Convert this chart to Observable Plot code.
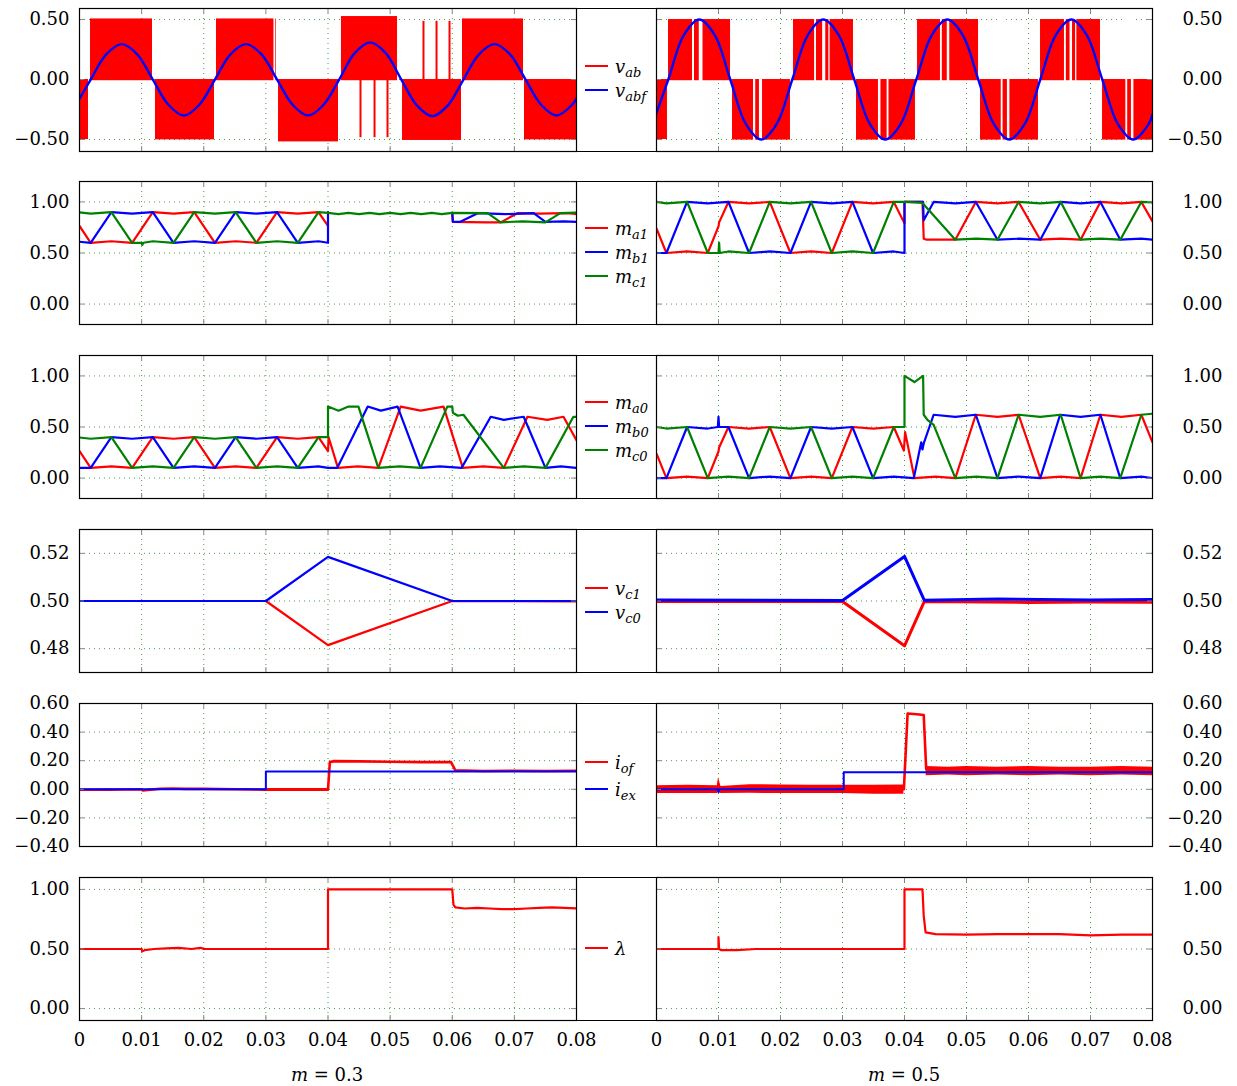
<!DOCTYPE html>
<html><head><meta charset="utf-8">
<script src="https://cdn.jsdelivr.net/npm/d3@7"></script>
<script src="https://cdn.jsdelivr.net/npm/@observablehq/plot@0.6"></script>
<style>
html,body{margin:0;padding:0;background:#fff;}
#fig{position:relative;width:1237px;height:1086px;overflow:hidden;font-family:"DejaVu Serif",serif;color:#000;}
.pl{position:absolute;}
.leg{position:absolute;left:576px;width:80px;height:144px;border-top:1px solid #000;border-bottom:1px solid #000;box-sizing:border-box;}
.item{position:absolute;left:585px;height:24px;display:flex;align-items:center;font-size:18px;font-style:italic;white-space:nowrap;}
.item .sw{display:inline-block;width:23px;height:2px;margin-right:7px;}
.item sub{font-size:13px;vertical-align:-4px;line-height:0;}
.cap{position:absolute;font-size:18px;transform:translateX(-50%);white-space:nowrap;}
</style></head><body><div id="fig"></div><script>
const RED = "#ff0000", BLUE = "#0000ff", GREEN = "#008000";

// ---------- axis data ----------
const X_TICKS = [0, 0.01, 0.02, 0.03, 0.04, 0.05, 0.06, 0.07, 0.08];
const X_LABELS = ["0", "0.01", "0.02", "0.03", "0.04", "0.05", "0.06", "0.07", "0.08"];
const Y1_TICKS = [-0.5, 0, 0.5], Y1_LABELS = ["\u22120.50", "0.00", "0.50"];
const Y2_TICKS = [0, 0.5, 1], Y2_LABELS = ["0.00", "0.50", "1.00"];
const Y4_TICKS = [0.48, 0.5, 0.52], Y4_LABELS = ["0.48", "0.50", "0.52"];
const Y5_TICKS = [-0.4, -0.2, 0, 0.2, 0.4, 0.6], Y5_LABELS = ["\u22120.40", "\u22120.20", "0.00", "0.20", "0.40", "0.60"];
const Y6_TICKS = [0, 0.5, 1], Y6_LABELS = ["0.00", "0.50", "1.00"];
const CASES = ["0.3", "0.5"];

// ---------- row 1: v_ab (PWM blocks [t0,t1,level]) and v_abf ----------
const vabBlocksL = [[0,0.00145,-0.5],[0.00177,0.01175,0.505],[0.01223,0.02173,-0.503],[0.02205,0.03171,0.505],[0.03203,0.04169,-0.52],[0.04217,0.05119,0.525],[0.05199,0.06149,-0.508],[0.06165,0.07147,0.505],[0.07163,0.08,-0.503]];
const vabSpikesL = [[0.04523,-0.485],[0.04749,-0.485],[0.04958,-0.485],[0.05537,0.485],[0.05747,0.485],[0.05956,0.485]];
const vabGapsL = [[0.0313,0.0316]];
const vabfL = [[0,-0.16],[0.0018,0],[0.0043,0.21],[0.0068,0.295],[0.0093,0.21],[0.0118,0],[0.0143,-0.21],[0.0168,-0.3],[0.0193,-0.21],[0.0218,0],[0.0243,0.21],[0.0268,0.295],[0.0293,0.21],[0.0318,0],[0.0343,-0.21],[0.0368,-0.3],[0.0393,-0.21],[0.0418,0],[0.0443,0.22],[0.0468,0.31],[0.0493,0.22],[0.0518,0],[0.0543,-0.215],[0.0568,-0.305],[0.0593,-0.215],[0.0618,0],[0.0643,0.21],[0.0668,0.295],[0.0693,0.21],[0.0718,0],[0.0743,-0.21],[0.0768,-0.3],[0.0793,-0.21],[0.08,-0.16]];

const vabBlocksR = [[0,0.00177,-0.5],[0.00194,0.01194,0.5],[0.01226,0.02161,-0.505],[0.0221,0.03177,0.5],[0.03226,0.04177,-0.505],[0.0421,0.05194,0.5],[0.05226,0.06161,-0.505],[0.06194,0.07161,0.5],[0.07194,0.08,-0.505]];
const vabGapsR = [[0.00581,0.00613],[0.0069,0.0075],[0.01565,0.0160],[0.0166,0.0171],[0.0255,0.0258],[0.0268,0.0273],[0.0278,0.0280],[0.0358,0.0362],[0.0372,0.0375],[0.0458,0.0461],[0.0469,0.0473],[0.0556,0.0559],[0.0566,0.0570],[0.0658,0.0661],[0.0667,0.0671],[0.0676,0.0678],[0.0757,0.0760],[0.0766,0.0770]];
const vabfR = [[0,-0.28],[0.0019,0],[0.0044,0.37],[0.0069,0.5],[0.0094,0.37],[0.0119,0],[0.0144,-0.37],[0.0169,-0.5],[0.0194,-0.37],[0.0219,0],[0.0244,0.37],[0.0269,0.5],[0.0294,0.37],[0.0319,0],[0.0344,-0.37],[0.0369,-0.5],[0.0394,-0.37],[0.0419,0],[0.0444,0.37],[0.0469,0.5],[0.0494,0.37],[0.0519,0],[0.0544,-0.37],[0.0569,-0.5],[0.0594,-0.37],[0.0619,0],[0.0644,0.37],[0.0669,0.5],[0.0694,0.37],[0.0719,0],[0.0744,-0.37],[0.0769,-0.5],[0.0794,-0.37],[0.08,-0.29]];

// ---------- row 2: m_a1, m_b1, m_c1 ----------
const ma1L = [[0,0.765],[0.0018,0.6],[0.00513,0.615],[0.00847,0.6],[0.0118,0.9],[0.01513,0.885],[0.01847,0.9],[0.0218,0.6],[0.02513,0.615],[0.02847,0.6],[0.0318,0.9],[0.03513,0.885],[0.03847,0.9],[0.04,0.765],[0.04,NaN],[0.06,NaN],[0.06,0.89],[0.0601,0.805],[0.0655,0.8],[0.0678,0.8],[0.0705,0.89],[0.074,0.885],[0.078,0.89],[0.0795,0.885],[0.08,0.88]];
const mb1L = [[0,0.61],[0.0018,0.6],[0.00513,0.9],[0.00847,0.885],[0.0118,0.9],[0.01513,0.6],[0.01847,0.615],[0.0218,0.6],[0.02513,0.9],[0.02847,0.885],[0.0318,0.9],[0.03513,0.6],[0.03847,0.615],[0.04,0.6],[0.04,0.9],[0.0401,NaN],[0.06,NaN],[0.06,0.89],[0.0601,0.807],[0.0613,0.805],[0.0641,0.89],[0.0685,0.88],[0.0731,0.89],[0.075,0.805],[0.078,0.81],[0.08,0.805]];
const mc1L = [[0,0.897],[0.0018,0.885],[0.00513,0.9],[0.00847,0.6],[0.0100,0.6],[0.0101,0.58],[0.0103,0.6],[0.0118,0.615],[0.01513,0.6],[0.01847,0.9],[0.0218,0.885],[0.02513,0.9],[0.02847,0.6],[0.0318,0.615],[0.03513,0.6],[0.03847,0.9],[0.04,0.893],[0.0417,0.88],[0.0433,0.893],[0.045,0.88],[0.0467,0.893],[0.0483,0.88],[0.05,0.893],[0.0517,0.88],[0.0533,0.893],[0.055,0.88],[0.0567,0.893],[0.0583,0.88],[0.06,0.893],[0.0657,0.89],[0.0678,0.8],[0.0713,0.81],[0.075,0.8],[0.0774,0.89],[0.08,0.895]];

const ma1R = [[0,0.74],[0.0016,0.5],[0.00493,0.515],[0.00827,0.5],[0.0100,0.76],[0.0101,0.8],[0.0116,1],[0.01493,0.985],[0.01827,1],[0.0216,0.5],[0.02493,0.515],[0.02827,0.5],[0.0316,1],[0.03493,0.985],[0.03827,1],[0.04,0.79],[0.04,1],[0.0429,1],[0.0431,0.64],[0.0436,0.63],[0.0482,0.63],[0.0515,1],[0.055,0.985],[0.0584,1],[0.0619,0.63],[0.0652,0.64],[0.0684,0.63],[0.0716,1],[0.075,0.985],[0.0782,1],[0.08,0.81]];
const mb1R = [[0,0.5],[0.0016,0.5],[0.00493,1],[0.00827,0.985],[0.0116,1],[0.01493,0.5],[0.01827,0.515],[0.0216,0.5],[0.02493,1],[0.02827,0.985],[0.0316,1],[0.03493,0.5],[0.03827,0.515],[0.04,0.5],[0.04,1],[0.043,1],[0.0431,0.82],[0.0447,1],[0.0482,0.985],[0.0515,1],[0.055,0.63],[0.0584,0.64],[0.0619,0.63],[0.0652,1],[0.0684,0.985],[0.0716,1],[0.0748,0.63],[0.0782,0.64],[0.08,0.63]];
const mc1R = [[0,1],[0.0016,0.985],[0.00493,1],[0.00827,0.5],[0.0100,0.5],[0.0101,0.6],[0.0102,0.5],[0.0116,0.515],[0.01493,0.5],[0.01827,1],[0.0216,0.985],[0.02493,1],[0.02827,0.5],[0.0316,0.515],[0.03493,0.5],[0.03827,1],[0.04,1],[0.0429,0.99],[0.0482,0.63],[0.0516,0.64],[0.055,0.63],[0.0584,1],[0.0619,0.985],[0.0652,1],[0.0684,0.63],[0.0716,0.64],[0.0748,0.63],[0.0782,1],[0.08,0.995]];

// ---------- row 3: m_a0, m_b0, m_c0 ----------
const ma0L = [[0,0.265],[0.0018,0.1],[0.00513,0.115],[0.00847,0.1],[0.0118,0.4],[0.01513,0.385],[0.01847,0.4],[0.0218,0.1],[0.02513,0.115],[0.02847,0.1],[0.0318,0.4],[0.03513,0.385],[0.03847,0.4],[0.04,0.265],[0.0401,0.4],[0.0416,0.1],[0.0448,0.115],[0.0481,0.1],[0.0517,0.7],[0.0549,0.66],[0.0586,0.7],[0.0617,0.1],[0.065,0.115],[0.0683,0.1],[0.0721,0.6],[0.0753,0.57],[0.0779,0.6],[0.08,0.37]];
const mb0L = [[0,0.1],[0.0018,0.1],[0.00513,0.4],[0.00847,0.385],[0.0118,0.4],[0.01513,0.1],[0.01847,0.115],[0.0218,0.1],[0.02513,0.4],[0.02847,0.385],[0.0318,0.4],[0.03513,0.1],[0.03847,0.115],[0.04,0.1],[0.0415,0.1],[0.0464,0.7],[0.0485,0.66],[0.0512,0.7],[0.0549,0.1],[0.058,0.115],[0.0615,0.1],[0.0662,0.6],[0.0683,0.57],[0.0715,0.6],[0.075,0.1],[0.0775,0.115],[0.08,0.1]];
const mc0L = [[0,0.397],[0.0018,0.385],[0.00513,0.4],[0.00847,0.1],[0.0118,0.115],[0.01513,0.1],[0.01847,0.4],[0.0218,0.385],[0.02513,0.4],[0.02847,0.1],[0.0318,0.115],[0.03513,0.1],[0.03847,0.4],[0.04,0.4],[0.04,0.7],[0.0417,0.66],[0.0433,0.7],[0.0449,0.7],[0.0481,0.1],[0.0515,0.115],[0.0549,0.1],[0.0592,0.7],[0.06,0.7],[0.0601,0.64],[0.0609,0.61],[0.0618,0.62],[0.0683,0.1],[0.0715,0.115],[0.075,0.1],[0.0795,0.6],[0.08,0.6]];

const ma0R = [[0,0.24],[0.0016,0],[0.00493,0.015],[0.00827,0],[0.0100,0.26],[0.0101,0.3],[0.0116,0.5],[0.01493,0.485],[0.01827,0.5],[0.0216,0],[0.02493,0.015],[0.02827,0],[0.0316,0.5],[0.03493,0.485],[0.03827,0.5],[0.0399,0.27],[0.0401,0.45],[0.0416,0],[0.045,0.015],[0.0482,0],[0.0515,0.62],[0.055,0.6],[0.0584,0.62],[0.0619,0],[0.0652,0.015],[0.0684,0],[0.0716,0.62],[0.075,0.6],[0.0782,0.62],[0.08,0.35]];
const mb0R = [[0,0],[0.0016,0],[0.00493,0.5],[0.00827,0.485],[0.0099,0.5],[0.0100,0.6],[0.0101,0.5],[0.0116,0.5],[0.01493,0],[0.01827,0.015],[0.0216,0],[0.02493,0.5],[0.02827,0.485],[0.0316,0.5],[0.03493,0],[0.03827,0.015],[0.0415,0],[0.0427,0.35],[0.0429,0.28],[0.0431,0.34],[0.0447,0.62],[0.0482,0.6],[0.0515,0.62],[0.055,0],[0.0584,0.015],[0.0619,0],[0.0651,0.62],[0.0684,0.6],[0.0716,0.62],[0.0748,0],[0.0782,0.015],[0.08,0]];
const mc0R = [[0,0.5],[0.0016,0.485],[0.00493,0.5],[0.00827,0],[0.0116,0.015],[0.01493,0],[0.01827,0.5],[0.0216,0.485],[0.02493,0.5],[0.02827,0],[0.0316,0.015],[0.03493,0],[0.03827,0.5],[0.04,0.5],[0.04,1.0],[0.0416,0.94],[0.043,1.0],[0.0431,0.62],[0.0437,0.57],[0.0447,0.52],[0.0482,0],[0.0516,0.015],[0.055,0],[0.0584,0.62],[0.0619,0.6],[0.0652,0.62],[0.0684,0],[0.0716,0.015],[0.0748,0],[0.0782,0.62],[0.08,0.63]];

// ---------- row 4: v_c1, v_c0 ----------
const vc1L = [[0,0.5],[0.03,0.5],[0.04,0.4815],[0.06,0.5],[0.08,0.4998]];
const vc0L = [[0,0.5],[0.03,0.5],[0.04,0.5185],[0.06,0.5],[0.08,0.5]];
const vc1R = [[0,0.4998],[0.03,0.4998],[0.04,0.4812],[0.0432,0.4998],[0.06,0.4994],[0.07,0.4996],[0.08,0.4995]];
const vc0R = [[0,0.5004],[0.03,0.5002],[0.04,0.5187],[0.0432,0.5003],[0.055,0.5008],[0.07,0.5004],[0.08,0.5006]];

// ---------- row 5: i_of, i_ex ----------
const iofBandL = [[0.03,-0.006,0.006],[0.04,-0.006,0.006]];
const iofL = [[0,-0.003],[0.005,-0.002],[0.01,0],[0.0102,-0.008],[0.011,-0.004],[0.013,0.004],[0.015,0.006],[0.017,0.003],[0.02,0.003],[0.025,0],[0.03,-0.002],[0.04,-0.003],[0.0403,0.19],[0.041,0.197],[0.045,0.195],[0.05,0.193],[0.055,0.19],[0.0598,0.19],[0.0605,0.133],[0.065,0.128],[0.07,0.13],[0.075,0.128],[0.08,0.13]];
const iexL = [[0,0],[0.03,0],[0.03,0.125],[0.08,0.125]];
const iofBandR1 = [[0,-0.03,0.025],[0.005,-0.03,0.028],[0.0098,-0.03,0.025],[0.0100,-0.02,0.08],[0.0104,-0.03,0.02],[0.015,-0.028,0.032],[0.02,-0.03,0.03],[0.025,-0.03,0.028],[0.03,-0.03,0.028],[0.035,-0.035,0.028],[0.0399,-0.035,0.03]];
const iofR = [[0.0399,0],[0.0405,0.53],[0.042,0.525],[0.0431,0.52],[0.0435,0.14]];
const iofBandR2 = [[0.0435,0.095,0.16],[0.047,0.1,0.155],[0.05,0.095,0.16],[0.055,0.1,0.155],[0.06,0.095,0.16],[0.065,0.1,0.155],[0.07,0.095,0.155],[0.075,0.1,0.16],[0.08,0.095,0.155]];
const iexR = [[0,0],[0.0099,0],[0.0100,-0.02],[0.0101,0],[0.0302,0],[0.0302,0.12],[0.08,0.12]];

// ---------- row 6: lambda ----------
const lamL = [[0,0.5],[0.01,0.5],[0.0101,0.48],[0.0105,0.49],[0.012,0.5],[0.014,0.505],[0.016,0.51],[0.018,0.5],[0.0195,0.51],[0.02,0.5],[0.04,0.5],[0.04,1],[0.06,1],[0.0602,0.87],[0.0605,0.85],[0.062,0.84],[0.064,0.845],[0.066,0.84],[0.068,0.835],[0.07,0.835],[0.072,0.84],[0.074,0.845],[0.076,0.85],[0.078,0.845],[0.08,0.84]];
const lamR = [[0,0.5],[0.01,0.5],[0.01,0.6],[0.0101,0.5],[0.0104,0.49],[0.013,0.49],[0.016,0.5],[0.018,0.5],[0.02,0.5],[0.04,0.5],[0.04,1],[0.0429,1],[0.0431,0.78],[0.0434,0.64],[0.045,0.625],[0.05,0.62],[0.055,0.625],[0.06,0.625],[0.065,0.625],[0.07,0.615],[0.075,0.62],[0.08,0.62]];

// ---------- legends ----------
const LEG = [
  [["v","ab",RED],["v","abf",BLUE]],
  [["m","a1",RED],["m","b1",BLUE],["m","c1",GREEN]],
  [["m","a0",RED],["m","b0",BLUE],["m","c0",GREEN]],
  [["v","c1",RED],["v","c0",BLUE]],
  [["i","of",RED],["i","ex",BLUE]],
  [["\u03bb","",RED]]
];
const LEG_Y = [[66,90],[228,252,276],[402,426,450],[588,612],[762,789],[948]];

// ---------- layout ----------
const ROW_TOPS = [8, 181, 355, 529, 703, 877];
const H = 143;
const FONT = '"DejaVu Serif",serif';
const fig = document.getElementById("fig");

const L = (data, stroke, w = 2.2, curve = "linear") =>
  Plot.line(data, {x: d => d[0], y: d => d[1], stroke, strokeWidth: w, curve, clip: true});

function panel(side, row, ydomain, yticks, ylabels, marks) {
  const isL = side === "L";
  const bottom = row === 5;
  const mt = 15, mb = bottom ? 45 : 15;
  const width = isL ? 580 : 637;
  const ml = isL ? 79 : 56, mr = isL ? 4 : 85;
  const W = width - ml - mr;
  const gridX = X_TICKS.slice(1, -1);
  const yl = yticks.map((v, i) => ({v, l: ylabels[i]}));
  const xl = X_TICKS.map((v, i) => ({v, l: X_LABELS[i]}));
  const svg = Plot.plot({
    width, height: H + mt + mb, marginTop: mt, marginBottom: mb, marginLeft: ml, marginRight: mr,
    x: {domain: [0, 0.08], axis: null},
    y: {domain: ydomain, axis: null},
    style: {fontFamily: FONT, fontSize: "18px", background: "transparent", color: "#000", overflow: "visible"},
    marks: [
      Plot.ruleX(gridX, {x: d => d, stroke: "#4a9a4a", strokeDasharray: "1,4", strokeWidth: 1}),
      Plot.ruleY(yticks, {y: d => d, stroke: "#4a9a4a", strokeDasharray: "1,4", strokeWidth: 1}),
      ...marks,
      Plot.tickX(X_TICKS, {x: d => d, insetBottom: H - 5, stroke: "#888"}),
      Plot.tickX(X_TICKS, {x: d => d, insetTop: H - 5, stroke: "#888"}),
      Plot.tickY(yticks, {y: d => d, insetRight: W - 5, stroke: "#888"}),
      Plot.tickY(yticks, {y: d => d, insetLeft: W - 5, stroke: "#888"}),
      Plot.frame({stroke: "#000", strokeWidth: 1.2}),
      Plot.text(yl, {y: "v", text: "l", frameAnchor: isL ? "left" : "right", dx: isL ? -10 : 70, textAnchor: "end", fontSize: 18, fill: "#000"}),
      ...(bottom ? [Plot.text(xl, {x: "v", text: "l", frameAnchor: "bottom", dy: 25, fontSize: 18, fill: "#000"})] : [])
    ]
  });
  svg.classList.add("pl");
  svg.style.left = (isL ? 0 : 600) + "px";
  svg.style.top = (ROW_TOPS[row] - mt) + "px";
  fig.appendChild(svg);
}

const blocks = (b) => Plot.rectY(b, {x1: d => d[0], x2: d => d[1], y1: d => d[2] > 0 ? -0.01 : 0, y2: d => d[2], fill: RED, clip: true});
const gaps = (g) => Plot.rectY(g, {x1: d => d[0], x2: d => d[1], y1: -0.55, y2: 0.55, fill: "#fff", clip: true});
const band = (b) => Plot.areaY(b, {x: d => d[0], y1: d => d[1], y2: d => d[2], fill: RED, clip: true});

// Row 1
panel("L", 0, [-0.6, 0.592], Y1_TICKS, Y1_LABELS, [
  blocks(vabBlocksL), gaps(vabGapsL),
  Plot.ruleX(vabSpikesL, {x: d => d[0], y1: 0, y2: d => d[1], stroke: RED, strokeWidth: 2}),
  L(vabfL, BLUE, 2.4, "catmull-rom")
]);
panel("R", 0, [-0.6, 0.592], Y1_TICKS, Y1_LABELS, [
  blocks(vabBlocksR), gaps(vabGapsR),
  L(vabfR, BLUE, 2.4, "catmull-rom")
]);
// Row 2
panel("L", 1, [-0.2, 1.2], Y2_TICKS, Y2_LABELS, [L(ma1L, RED), L(mb1L, BLUE), L(mc1L, GREEN)]);
panel("R", 1, [-0.2, 1.2], Y2_TICKS, Y2_LABELS, [L(ma1R, RED), L(mb1R, BLUE), L(mc1R, GREEN)]);
// Row 3
panel("L", 2, [-0.2, 1.2], Y2_TICKS, Y2_LABELS, [L(ma0L, RED), L(mb0L, BLUE), L(mc0L, GREEN)]);
panel("R", 2, [-0.2, 1.2], Y2_TICKS, Y2_LABELS, [L(ma0R, RED), L(mb0R, BLUE), L(mc0R, GREEN)]);
// Row 4
panel("L", 3, [0.47, 0.53], Y4_TICKS, Y4_LABELS, [L(vc1L, RED), L(vc0L, BLUE)]);
panel("R", 3, [0.47, 0.53], Y4_TICKS, Y4_LABELS, [L(vc1R, RED, 3), L(vc0R, BLUE, 3)]);
// Row 5
panel("L", 4, [-0.4, 0.6], Y5_TICKS, Y5_LABELS, [band(iofBandL), L(iofL, RED, 2.6), L(iexL, BLUE, 2)]);
panel("R", 4, [-0.4, 0.6], Y5_TICKS, Y5_LABELS, [band(iofBandR1), L(iofR, RED, 2.6), band(iofBandR2), L(iexR, BLUE, 2)]);
// Row 6
panel("L", 5, [-0.1, 1.1], Y6_TICKS, Y6_LABELS, [L(lamL, RED)]);
panel("R", 5, [-0.1, 1.1], Y6_TICKS, Y6_LABELS, [L(lamR, RED)]);

// legends
LEG.forEach((items, r) => {
  const box = document.createElement("div");
  box.className = "leg";
  box.style.top = ROW_TOPS[r] + "px";
  fig.appendChild(box);
  items.forEach(([base, sub, col], i) => {
    const it = document.createElement("div");
    it.className = "item";
    it.style.top = (LEG_Y[r][i] - 12) + "px";
    it.innerHTML = `<span class="sw" style="background:${col}"></span><span>${base}${sub ? `<sub>${sub}</sub>` : ""}</span>`;
    fig.appendChild(it);
  });
});

// case captions
[[327, CASES[0]], [904, CASES[1]]].forEach(([cx, val]) => {
  const d = document.createElement("div");
  d.className = "cap";
  d.style.left = cx + "px";
  d.style.top = "1064px";
  d.innerHTML = `<i>m</i> = ${val}`;
  fig.appendChild(d);
});
</script></body></html>
